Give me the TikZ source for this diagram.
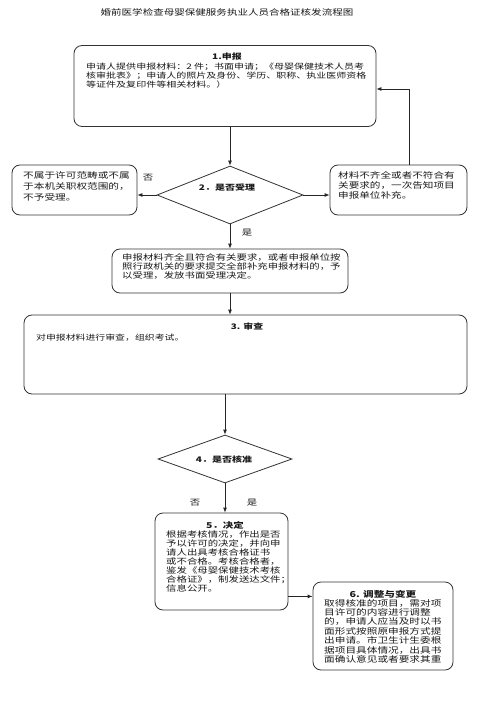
\documentclass[tikz,border=0pt]{standalone}
\usepackage{fontspec}
\newfontfamily\cjk[FakeStretch=1.3]{Noto Sans CJK SC}
\usetikzlibrary{shapes.geometric,arrows.meta,calc}
\begin{document}
\begin{tikzpicture}[x=1pt,y=-1pt,
  box/.style={draw=black!80, line width=0.8pt, rounded corners=8pt, inner sep=0pt},
  dia/.style={draw=black!80, line width=0.8pt, diamond, inner sep=0pt},
  txt/.style={inner sep=0pt, align=left, text=black!90},
  ttl/.style={inner sep=0pt, text=black!90},
  arr/.style={draw=black!85, line width=0.8pt, -{Latex[length=5pt,width=4pt]}}]
\useasboundingbox[fill=white] (0,0) rectangle (484,711);

\node[ttl, font=\cjk\fontsize{8.1}{9}\selectfont] (title) at (227,12) {婚前医学检查母婴保健服务执业人员合格证核发流程图};

% box 1
\node[box, minimum width=302pt, minimum height=81pt] (b1) at (225,86) {};
\node[ttl, font=\cjk\bfseries\fontsize{7.7}{8.7}\selectfont] (b1t) at (227,57) {1.申报};
\node[txt, anchor=north west, font=\cjk\fontsize{7.7}{8.7}\selectfont] (b1x) at (86,63)
 {申请人提供申报材料：2 件；书面申请；《母婴保健技术人员考\\核审批表》；申请人的照片及身份、学历、职称、执业医师资格\\等证件及复印件等相关材料。）};

% diamond 2
\node[dia, minimum width=146pt, minimum height=58pt] (d2) at (230,195) {};
\node[ttl, font=\cjk\bfseries\fontsize{7.7}{8.7}\selectfont] (d2t) at (227,188) {2．是否受理};

% left and right boxes
\node[box, minimum width=125pt, minimum height=50pt] (lb) at (74.5,190) {};
\node[txt, anchor=north west, font=\cjk\fontsize{8.2}{11}\selectfont] (lbx) at (23,171)
 {不属于许可范畴或不属\\于本机关职权范围的，\\不予受理。};
\node[box, minimum width=137pt, minimum height=50pt] (rb) at (398.5,190) {};
\node[txt, anchor=north west, font=\cjk\fontsize{8.15}{10.3}\selectfont] (rbx) at (338,171)
 {材料不齐全或者不符合有\\关要求的，一次告知项目\\申报单位补充。};

\node[ttl, font=\cjk\fontsize{8}{9}\selectfont] (no1) at (148,178) {否};
\node[ttl, font=\cjk\fontsize{8}{9}\selectfont] (yes1) at (247,233) {是};

% box 2
\node[box, minimum width=236pt, minimum height=44pt] (b2) at (230,271) {};
\node[txt, anchor=north west, font=\cjk\fontsize{8}{9}\selectfont] (b2x) at (122,253)
 {申报材料齐全且符合有关要求，或者申报单位按\\照行政机关的要求提交全部补充申报材料的，予\\以受理，发放书面受理决定。};

% box 3
\node[box, minimum width=443pt, minimum height=79pt] (b3) at (245.5,354.5) {};
\node[ttl, font=\cjk\bfseries\fontsize{7.6}{8.6}\selectfont] (b3t) at (247,327) {3. 审查};
\node[txt, anchor=north west, font=\cjk\fontsize{7.6}{8.6}\selectfont] (b3x) at (36,334)
 {对申报材料进行审查，组织考试。};

% diamond 4
\node[dia, minimum width=134pt, minimum height=48pt] (d4) at (225,459) {};
\node[ttl, font=\cjk\bfseries\fontsize{7.7}{8.7}\selectfont] (d4t) at (224,460) {4．是否核准};
\node[ttl, font=\cjk\fontsize{8}{9}\selectfont] (no2) at (195,503) {否};
\node[ttl, font=\cjk\fontsize{8}{9}\selectfont] (yes2) at (252,503) {是};

% box 5
\node[box, minimum width=133pt, minimum height=97pt] (b5) at (221.5,561.5) {};
\node[ttl, font=\cjk\bfseries\fontsize{8}{9}\selectfont] (b5t) at (225,525) {5．决定};
\node[txt, anchor=north west, font=\cjk\fontsize{8}{8.9}\selectfont] (b5x) at (166,531)
 {根据考核情况，作出是否\\予以许可的决定，并向申\\请人出具考核合格证书\\或不合格。考核合格者，\\鉴发《母婴保健技术考核\\合格证》，制发送达文件；\\信息公开。};

% box 6
\node[box, minimum width=140pt, minimum height=88pt] (b6) at (383,626) {};
\node[ttl, font=\cjk\bfseries\fontsize{8.2}{9.2}\selectfont] (b6t) at (383,594) {6. 调整与变更};
\node[txt, anchor=north west, font=\cjk\fontsize{8.2}{9.4}\selectfont] (b6x) at (324,599)
 {取得核准的项目，需对项\\目许可的内容进行调整\\的，申请人应当及时以书\\面形式按照原申报方式提\\出申请。市卫生计生委根\\据项目具体情况，出具书\\面确认意见或者要求其重};

% connectors
\draw[arr] (b1.south -| d2.north) -- (d2.north);
\draw[arr] (d2.west) -- (lb.east |- d2.west);
\draw[arr] (d2.east) -- (rb.west |- d2.east);
\coordinate (rt) at ($(rb.north west)+(80,0)$);
\draw[arr] (rt) |- ($(b1.east)+(0,3)$);
\draw[arr] (d2.south) -- (d2.south |- b2.north);
\draw[arr] (b2.south) -- (b2.south |- b3.north);
\draw[arr] (b3.south -| d4.north) -- (d4.north);
\draw[arr] (d4.south) -- (d4.south |- b5.north);
\coordinate (r5) at ($(b5.south east)+(0,-14)$);
\draw[arr] (r5) -- (r5 -| b6.west);
\end{tikzpicture}
\end{document}
